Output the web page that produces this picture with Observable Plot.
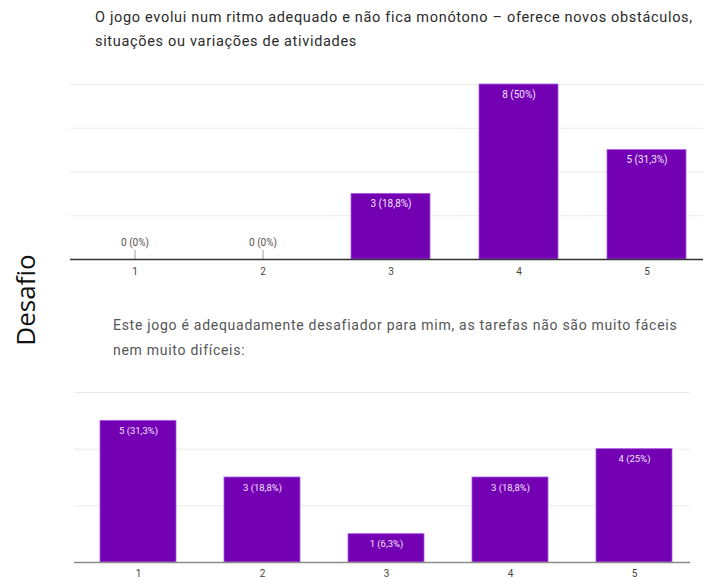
<!DOCTYPE html>
<html>
<head>
<meta charset="utf-8">
<script src="https://cdn.jsdelivr.net/npm/d3@7"></script>
<script src="https://cdn.jsdelivr.net/npm/@observablehq/plot@0.6"></script>
<style>
  html, body { margin: 0; padding: 0; background: #fff; }
  #page { position: relative; width: 703px; height: 580px; overflow: hidden; font-family: Roboto, sans-serif; }
  .title { position: absolute; line-height: 24px; white-space: nowrap; }
  #t1 { left: 95px; top: 6px; color: #2a2a2a; font-size: 14.5px; letter-spacing: 0.68px; }
  #t2 { left: 113px; top: 313px; color: #555; font-size: 14px; letter-spacing: 0.72px; line-height: 25px; }
  #side { position: absolute; left: 25px; top: 300px; transform: translate(-50%, -50%) rotate(-90deg);
          font-family: "Open Sans", sans-serif; font-size: 26px; color: #111; white-space: nowrap; }
  .chart { position: absolute; left: 0; }
  #c1 { top: 70px; }
  #c2 { top: 380px; }
</style>
</head>
<body>
<div id="page">
  <div class="title" id="t1">O jogo evolui num ritmo adequado e não fica monótono – oferece novos obstáculos,<br>situações ou variações de atividades</div>
  <div id="side">Desafio</div>
  <div class="title" id="t2">Este jogo é adequadamente desafiador para mim, as tarefas não são muito fáceis<br>nem muito difíceis:</div>
  <div class="chart" id="c1"></div>
  <div class="chart" id="c2"></div>
</div>
<script>
// Likert scale answers (1–5) and response counts for each question
const categories = ["1", "2", "3", "4", "5"];
const ritmoCounts = [0, 0, 3, 8, 5];
const desafioCounts = [5, 3, 1, 3, 4];
const ritmoGrid = [2, 4, 6, 8];
const desafioGrid = [2, 4, 6];

const BAR = "#7400b4";

// "8 (50%)" style label: count plus share of all responses, one decimal, comma separator
function makeRows(counts) {
  const total = d3.sum(counts);
  return categories.map((cat, i) => {
    const pct = +(counts[i] / total * 100).toFixed(1);
    return {cat, count: counts[i], label: `${counts[i]} (${String(pct).replace(".", ",")}%)`};
  });
}

function barChart(counts, o) {
  const rows = makeRows(counts);
  const filled = rows.filter(d => d.count > 0);
  const empty = rows.filter(d => d.count === 0);
  return Plot.plot({
    width: 703,
    height: o.height,
    marginTop: o.marginTop,
    marginBottom: o.marginBottom,
    marginLeft: o.marginLeft,
    marginRight: o.marginRight,
    style: {fontFamily: "Roboto, sans-serif", fontSize: "10px", color: "#444", background: "transparent"},
    x: {domain: categories, range: o.xRange, paddingInner: o.pad, paddingOuter: o.pad / 2,
        label: null, tickSize: 0, tickPadding: o.tickPadding},
    y: {domain: [0, o.yMax], axis: null},
    marks: [
      Plot.ruleY(o.grid, {stroke: "#ebebeb"}),
      Plot.barY(filled, {x: "cat", y: "count", fill: BAR, stroke: "#a85de0", strokeWidth: 0.8}),
      // short stem joining a zero-count label to the baseline
      Plot.ruleX(empty, {x: "cat", y1: "count", y2: "count", insetBottom: 9, stroke: "#9c9c9c"}),
      Plot.text(filled, {x: "cat", y: "count", text: "label", dy: 10, fill: "#f1e4ff", fontSize: o.labelSize}),
      Plot.text(empty, {x: "cat", y: "count", text: "label", dy: -17, fill: "#555", fontSize: o.labelSize}),
      Plot.ruleY([0], {stroke: o.axisColor, strokeWidth: o.axisWidth})
    ]
  });
}

document.getElementById("c1").append(barChart(ritmoCounts, {
  height: 215, marginTop: 14, marginBottom: 26, marginLeft: 70, marginRight: 0,
  xRange: [70, 711], pad: 0.384, tickPadding: 8, yMax: 8, grid: ritmoGrid,
  axisColor: "#333", axisWidth: 1.6, labelSize: 10
}));

document.getElementById("c2").append(barChart(desafioCounts, {
  height: 200, marginTop: 12, marginBottom: 18, marginLeft: 74, marginRight: 13,
  xRange: [74.75, 697.25], pad: 0.39, tickPadding: 7, yMax: 6, grid: desafioGrid,
  axisColor: "#8a8a8a", axisWidth: 1.5, labelSize: 9.5
}));
</script>
</body>
</html>
